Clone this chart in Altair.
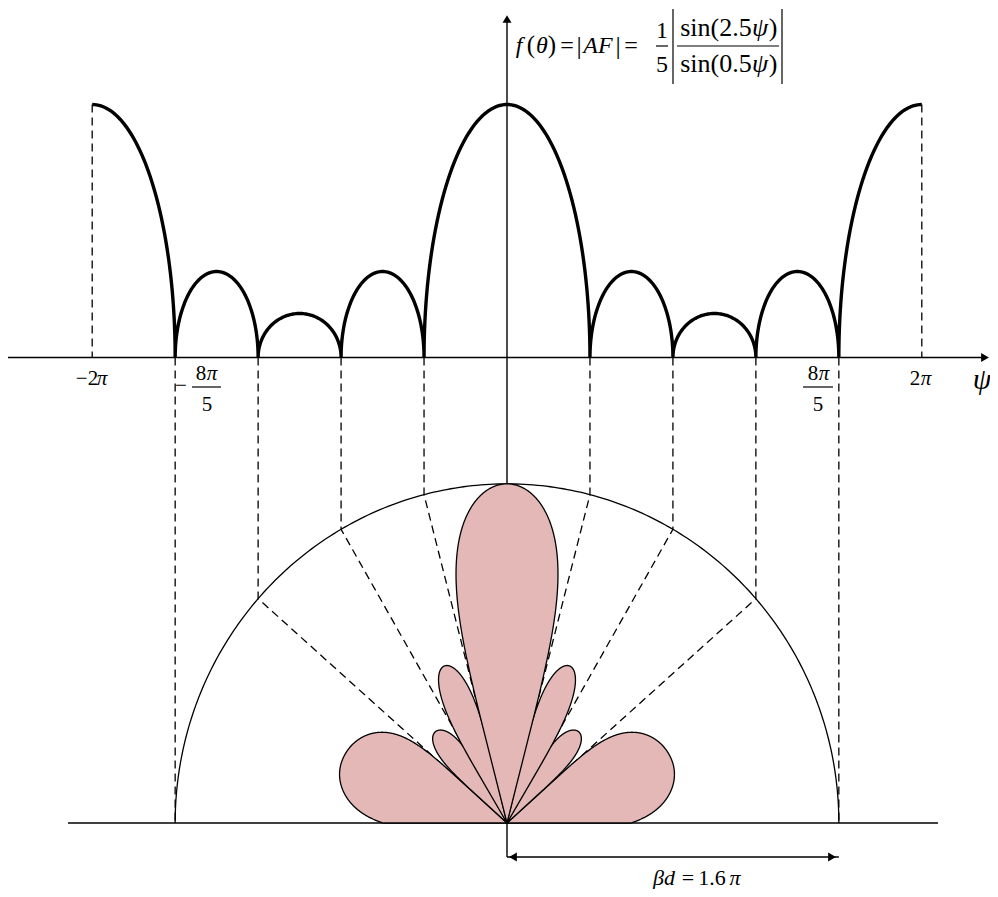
import altair as alt
import numpy as np
import pandas as pd

# ---------------- values ----------------
# |AF| lobes of the upper plot, psi in units of pi
PSI_EDGES = [-2.0, -1.6, -1.2, -0.8, -0.4, 0.4, 0.8, 1.2, 1.6, 2.0]
LOBE_HEIGHTS = [1.0, 0.34, 0.174, 0.34, 1.0, 0.34, 0.174, 0.34, 1.0]
NULL_PSI = [-1.6, -1.2, -0.8, -0.4, 0.4, 0.8, 1.2, 1.6]
EDGE_PSI = [-2.0, 2.0]
BETA_D = 1.6  # beta*d in units of pi

# polar lobes (right half, mirrored to the left), angles in degrees
LOBE_NAMES = ["main", "second", "third", "endfire"]
LOBE_LO = [75.5, 59.2, 41.8, -5.0]
LOBE_PEAK = [90.0, 67.8, 51.3, 20.0]
LOBE_HI = [104.5, 76.4, 61.2, 41.8]
LOBE_RADIUS = [1.0, 0.50, 0.345, 0.53]
LOBE_SHARP_LO = [0.23, 0.23, 0.19, 0.30]
LOBE_SHARP_HI = [0.23, 0.23, 0.19, 0.17]

# ---------------- layout ----------------
W, H = 982, 881
PX = 207.4          # pixels per pi
OX, OY = 507, 823   # page position of the polar origin


def X(px):
    return (px - OX) / PX


def Y(py):
    return (OY - py) / PX


T0 = Y(357.5)       # psi axis of the upper plot
TH = 253 / PX       # height of |AF| = 1
SY = 1.022          # vertical stretch of the polar drawing
YDIM = Y(857)

xs = alt.Scale(domain=[X(8), X(8 + W)], nice=False, zero=False)
ys = alt.Scale(domain=[Y(8 + H), Y(8)], nice=False, zero=False)


def seg_df(segs):
    rows = []
    for name, pts in segs:
        for i, (x, y) in enumerate(pts):
            rows.append({"seg": name, "i": i, "x": x, "y": y})
    return pd.DataFrame(rows)


def lines(df, **kw):
    return alt.Chart(df).mark_line(**kw).encode(
        x=alt.X("x:Q", scale=xs, axis=None),
        y=alt.Y("y:Q", scale=ys, axis=None),
        detail="seg:N",
        order="i:Q",
    )


# upper |AF| curve (elliptic arcs through the read nulls and peaks)
curve = []
n = len(LOBE_HEIGHTS)
for k in range(n):
    a, b, h = PSI_EDGES[k], PSI_EDGES[k + 1], LOBE_HEIGHTS[k]
    if k == 0:
        t = np.linspace(np.pi / 2, 0, 60)
        x = a + (b - a) * np.cos(t)
    elif k == n - 1:
        t = np.linspace(0, np.pi / 2, 60)
        x = b - (b - a) * np.cos(t)
    else:
        t = np.linspace(np.pi, 0, 90)
        x = (a + b) / 2 + (b - a) / 2 * np.cos(t)
    y = T0 + TH * h * np.sin(t)
    curve += list(zip(x, y))
curve_df = seg_df([("af", curve)])

# semicircle of radius beta*d
th = np.linspace(0, np.pi, 241)
circle_df = seg_df([("circ", list(zip(BETA_D * np.cos(th), BETA_D * np.sin(th) * SY)))])

# dashed construction lines
dashed = []
for p in NULL_PSI:
    if abs(p) < BETA_D:
        yc = np.sqrt(BETA_D ** 2 - p ** 2) * SY
        dashed.append((f"n{p}", [(p, T0), (p, yc), (0.0, 0.0)]))
    else:
        dashed.append((f"n{p}", [(p, T0), (p, 0.0)]))
for e, h in zip(EDGE_PSI, [LOBE_HEIGHTS[0], LOBE_HEIGHTS[-1]]):
    dashed.append((f"e{e}", [(e, T0 + TH * h), (e, T0)]))
dashed_df = seg_df(dashed)

# solid axes
axes_df = seg_df([
    ("haxis", [(X(8), T0), (X(986), T0)]),
    ("vaxis", [(0.0, YDIM), (0.0, Y(18))]),
    ("base", [(X(68), 0.0), (X(938), 0.0)]),
    ("dim", [(0.0, YDIM), (BETA_D, YDIM)]),
])

# fraction bars and absolute-value bars of the texts
bars_df = seg_df([
    ("f15", [(X(656), Y(46)), (X(668), Y(46))]),
    ("fnum", [(X(677), Y(46)), (X(779), Y(46))]),
    ("abs1", [(X(673), Y(9)), (X(673), Y(84))]),
    ("abs2", [(X(782), Y(9)), (X(782), Y(84))]),
    ("t1", [(X(192), Y(387)), (X(221), Y(387))]),
    ("t2", [(X(803), Y(387)), (X(833), Y(387))]),
])

# polar lobes
lobe_segs = []
for k, name in enumerate(LOBE_NAMES):
    lo, pk, hi = LOBE_LO[k], LOBE_PEAK[k], LOBE_HI[k]
    t = np.linspace(max(lo, 0.0), hi, 400)
    g = np.where(
        t <= pk,
        np.clip(np.sin(np.pi / 2 * (t - lo) / (pk - lo)), 0, 1) ** LOBE_SHARP_LO[k],
        np.clip(np.sin(np.pi / 2 * (hi - t) / (hi - pk)), 0, 1) ** LOBE_SHARP_HI[k],
    )
    r = LOBE_RADIUS[k] * BETA_D * g
    sides = [1] if name == "main" else [1, -1]
    for s in sides:
        ang = np.radians(t if s == 1 else 180 - t)
        pts = [(0.0, 0.0)] + list(zip(r * np.cos(ang), r * np.sin(ang) * SY)) + [(0.0, 0.0)]
        lobe_segs.append((f"{name}{s}", pts))
lobes_df = seg_df(lobe_segs[::-1])

# arrow heads
arrows_df = pd.DataFrame([
    {"x": 0.0, "y": Y(19), "shape": "triangle-up"},
    {"x": X(985), "y": T0, "shape": "triangle-right"},
    {"x": X(513), "y": YDIM, "shape": "triangle-left"},
    {"x": X(832), "y": YDIM, "shape": "triangle-right"},
])

# texts (page positions of the labels)
upright = [
    ("(", 531, 53, 25), (")", 552, 53, 25), ("=", 567, 53, 24), ("|", 579, 54, 26),
    ("|", 618, 54, 26), ("=", 631, 53, 24),
    ("1", 662, 38, 24), ("5", 662, 72, 24),
    ("sin(2.5", 716, 36, 26), (")", 773, 36, 26),
    ("sin(0.5", 716, 72, 26), (")", 773, 72, 26),
    ("\u22122", 87, 385, 21), ("\u2212", 181, 392, 21),
    ("8", 201, 380, 21), ("5", 207, 411, 21),
    ("8", 813, 380, 21), ("5", 818, 411, 21), ("2", 915, 385, 21),
    ("=", 688, 885, 22), ("1.6", 712, 885, 22),
]
italic = [
    ("f", 519, 53, 24), ("\u03b8", 542, 53, 24), ("AF", 598, 53, 24),
    ("\u03c8", 760, 36, 26), ("\u03c8", 760, 72, 26),
    ("\u03c0", 102, 385, 21), ("\u03c0", 212, 380, 21), ("\u03c0", 824, 380, 21),
    ("\u03c0", 926, 385, 21),
    ("\u03c8", 982, 389, 30),
    ("\u03b2d", 664, 885, 22), ("\u03c0", 735, 885, 22),
]


def text_df(items):
    return pd.DataFrame([{"t": t, "x": X(a), "y": Y(b), "s": s} for t, a, b, s in items])


def texts(df, style):
    return alt.Chart(df).mark_text(
        font="Liberation Serif", fontStyle=style, align="center",
        baseline="alphabetic", color="black",
    ).encode(
        x=alt.X("x:Q", scale=xs, axis=None),
        y=alt.Y("y:Q", scale=ys, axis=None),
        text="t:N",
        size=alt.Size("s:Q", scale=None, legend=None),
    )


layers = [
    lines(axes_df, color="black", strokeWidth=1.4),
    lines(circle_df, color="black", strokeWidth=1.3),
    lines(dashed_df, color="black", strokeWidth=1.3, strokeDash=[8, 5]),
    lines(lobes_df, fill="#e4b8b7", stroke="black", strokeWidth=1.3,
          interpolate="linear-closed"),
    lines(curve_df, color="black", strokeWidth=3.4),
    lines(bars_df, color="black", strokeWidth=1.2),
    alt.Chart(arrows_df).mark_point(filled=True, color="black", size=80, opacity=1).encode(
        x=alt.X("x:Q", scale=xs, axis=None),
        y=alt.Y("y:Q", scale=ys, axis=None),
        shape=alt.Shape("shape:N", scale=None, legend=None),
    ),
    texts(text_df(upright), "normal"),
    texts(text_df(italic), "italic"),
]

chart = alt.layer(*layers).properties(
    width=W, height=H, padding=0, autosize="none", background="white"
).configure_view(stroke=None)

chart.save("out.html", embed_options={"renderer": "svg", "actions": False})
